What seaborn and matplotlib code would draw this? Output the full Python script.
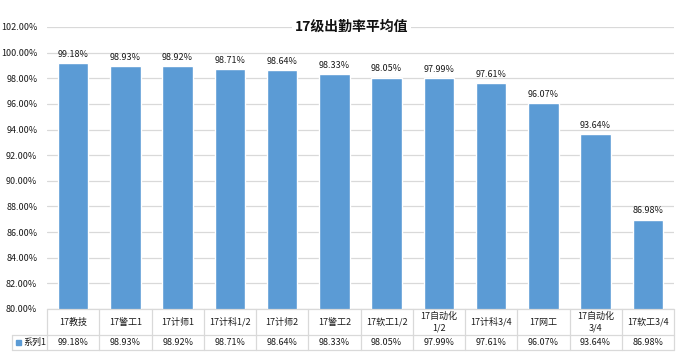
import matplotlib
matplotlib.use("Agg")
import matplotlib.pyplot as plt
import seaborn as sns
import pandas as pd
from matplotlib.ticker import FuncFormatter, MultipleLocator
from matplotlib.lines import Line2D
from matplotlib.patches import Rectangle

# Data
classes = ["17教技", "17警工1", "17计师1", "17计科1/2", "17计师2", "17警工2",
           "17软工1/2", "17自动化\n1/2", "17计科3/4", "17网工", "17自动化\n3/4", "17软工3/4"]
rates = [99.18, 98.93, 98.92, 98.71, 98.64, 98.33, 98.05, 97.99, 97.61, 96.07, 93.64, 86.98]
series_name = "系列1"
title = "17级出勤率平均值"

BAR = "#5B9BD5"
GRID = "#D9D9D9"
TXT = "#1a1a1a"

sns.set_theme(style="white")
plt.rcParams['font.family'] = ['Noto Sans CJK SC', 'DejaVu Sans']

W, H = 678, 353
fig = plt.figure(figsize=(W / 100, H / 100), dpi=100)
ax = fig.add_axes([47 / W, (H - 309) / H, (674 - 47) / W, (309 - 27) / H])

df = pd.DataFrame({"cls": classes, "rate": [r / 100 for r in rates]})
sns.barplot(data=df, x="cls", y="rate", color=BAR, saturation=1, width=0.58, ax=ax)

ax.set_ylim(0.80, 1.02)
ax.yaxis.set_major_locator(MultipleLocator(0.02))
ax.yaxis.set_major_formatter(FuncFormatter(lambda v, p: f"{v * 100:.2f}%"))
ax.tick_params(axis="y", labelsize=6.5, length=0, pad=7, colors=TXT)
ax.set_xticks([])
ax.set_xlabel("")
ax.set_ylabel("")
ax.grid(axis="y", color=GRID, linewidth=0.9)
ax.set_axisbelow(True)
for s in ax.spines.values():
    s.set_visible(False)

# value labels above bars
for i, r in enumerate(rates):
    ax.annotate(f"{r:.2f}%", (i, r / 100), xytext=(0, 3), textcoords="offset points",
                ha="center", va="bottom", fontsize=6.5, color=TXT)

# title sits on the top gridline with a white backing
fig.text(351.5 / W, 1 - 27 / H, title, ha="center", va="center",
         fontsize=10, fontweight="bold", color="#111111",
         bbox=dict(facecolor="white", edgecolor="none", pad=2))

# data table under the plot area (figure pixel coordinates)
def fx(px):
    return px / W

def fy(py):
    return 1 - py / H

x0, x1 = 47, 674
row1, row2, row3 = 309, 335, 350
key_left = 12
step = (x1 - x0) / len(classes)
lc = dict(color=GRID, linewidth=0.9)
fig.add_artist(Line2D([fx(x0), fx(x1)], [fy(row1), fy(row1)], **lc))
fig.add_artist(Line2D([fx(key_left), fx(x1)], [fy(row2), fy(row2)], **lc))
fig.add_artist(Line2D([fx(key_left), fx(x1)], [fy(row3), fy(row3)], **lc))
fig.add_artist(Line2D([fx(key_left), fx(key_left)], [fy(row2), fy(row3)], **lc))
for k in range(len(classes) + 1):
    xp = x0 + k * step
    fig.add_artist(Line2D([fx(xp), fx(xp)], [fy(row1), fy(row3)], **lc))

for i, (c, r) in enumerate(zip(classes, rates)):
    xc = x0 + (i + 0.5) * step
    fig.text(fx(xc), fy((row1 + row2) / 2), c, ha="center", va="center",
             fontsize=6.5, color=TXT, linespacing=1.3)
    fig.text(fx(xc), fy((row2 + row3) / 2), f"{r:.2f}%", ha="center", va="center",
             fontsize=6.5, color=TXT)

fig.add_artist(Rectangle((fx(16), fy(345)), fx(5), 5 / H, color=BAR))
fig.text(fx(23), fy((row2 + row3) / 2), series_name, ha="left", va="center",
         fontsize=6.5, color=TXT)

fig.savefig("out.png", dpi=100, facecolor="white")
